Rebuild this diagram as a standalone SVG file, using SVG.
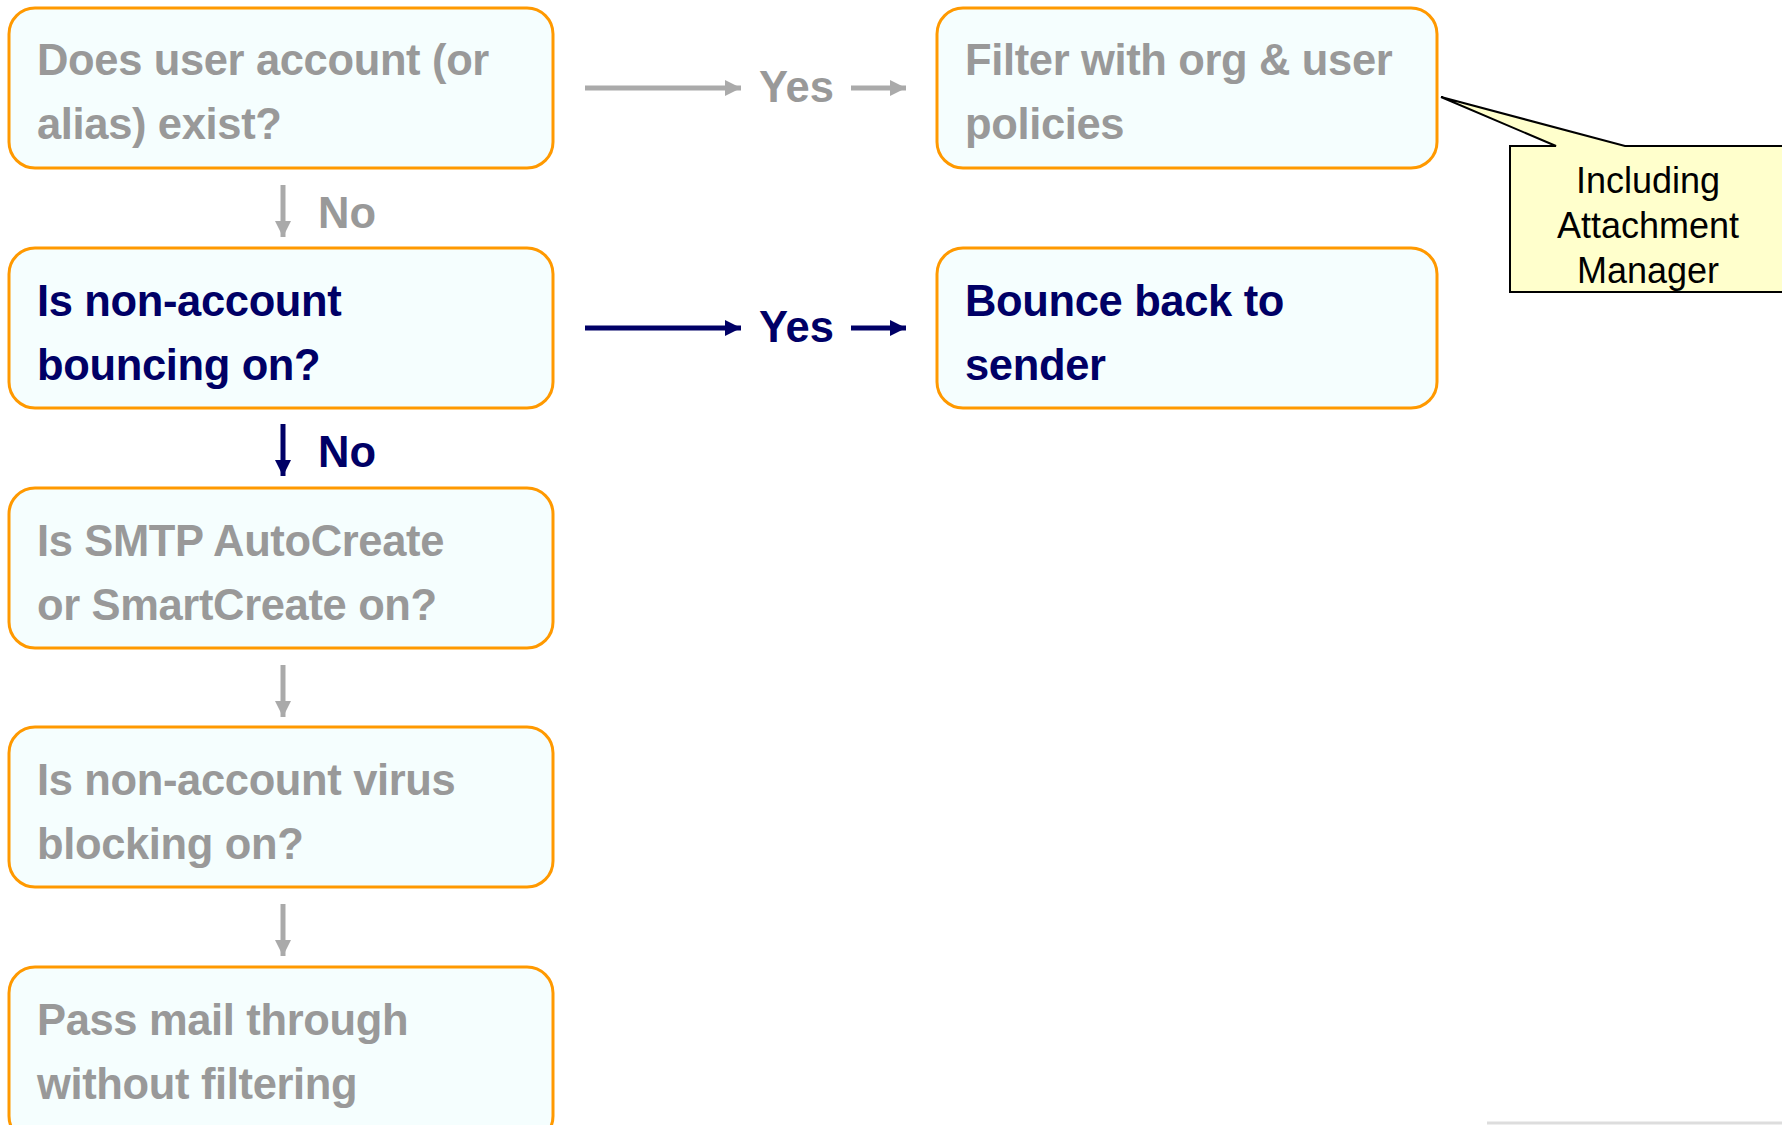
<svg xmlns="http://www.w3.org/2000/svg" width="1782" height="1125" viewBox="0 0 1782 1125">
  <style>
    .box { fill: #F5FEFE; stroke: #FF9900; stroke-width: 3; }
    .t { font-family: "Liberation Sans", Arial, sans-serif; font-weight: bold; font-size: 43.5px; }
    .bt { letter-spacing: -0.35px; }
    .gray { fill: #999999; }
    .navy { fill: #000066; }
    .lg { stroke: #AAAAAA; stroke-width: 5; fill: none; }
    .ln { stroke: #000066; stroke-width: 5; fill: none; }
    .note { fill: #FFFFCC; stroke: #000000; stroke-width: 2; }
    .nt { font-family: "Liberation Sans", Arial, sans-serif; font-size: 36px; fill: #000000; text-anchor: middle; }
  </style>
  <defs>
    <marker id="headGray" markerUnits="userSpaceOnUse" markerWidth="18" markerHeight="18" refX="16" refY="8" orient="auto">
      <path d="M0,0 L16,8 L0,16 z" fill="#AAAAAA"/>
    </marker>
    <marker id="headNavy" markerUnits="userSpaceOnUse" markerWidth="18" markerHeight="18" refX="16" refY="8" orient="auto">
      <path d="M0,0 L16,8 L0,16 z" fill="#000066"/>
    </marker>
  </defs>

  <rect width="1782" height="1125" fill="#FFFFFF"/>

  <!-- Decision and action boxes -->
  <g id="account-exists">
    <rect class="box" x="9" y="8" width="544" height="160" rx="26"/>
    <text class="t bt gray" x="37" y="75">Does user account (or</text>
    <text class="t bt gray" x="37" y="139">alias) exist?</text>
  </g>
  <g id="bouncing">
    <rect class="box" x="9" y="248" width="544" height="160" rx="26"/>
    <text class="t bt navy" x="37" y="316">Is non-account</text>
    <text class="t bt navy" x="37" y="380">bouncing on?</text>
  </g>
  <g id="autocreate">
    <rect class="box" x="9" y="488" width="544" height="160" rx="26"/>
    <text class="t bt gray" x="37" y="556">Is SMTP AutoCreate</text>
    <text class="t bt gray" x="37" y="620">or SmartCreate on?</text>
  </g>
  <g id="virus-blocking">
    <rect class="box" x="9" y="727" width="544" height="160" rx="26"/>
    <text class="t bt gray" x="37" y="795">Is non-account virus</text>
    <text class="t bt gray" x="37" y="859">blocking on?</text>
  </g>
  <g id="pass-through">
    <rect class="box" x="9" y="967" width="544" height="175" rx="26"/>
    <text class="t bt gray" x="37" y="1035">Pass mail through</text>
    <text class="t bt gray" x="37" y="1099">without filtering</text>
  </g>
  <g id="filter-policies">
    <rect class="box" x="937" y="8" width="500" height="160" rx="26"/>
    <text class="t bt gray" x="965" y="75">Filter with org &amp; user</text>
    <text class="t bt gray" x="965" y="139">policies</text>
  </g>
  <g id="bounce-back">
    <rect class="box" x="937" y="248" width="500" height="160" rx="26"/>
    <text class="t bt navy" x="965" y="316">Bounce back to</text>
    <text class="t bt navy" x="965" y="380">sender</text>
  </g>

  <!-- Callout note -->
  <g id="attachment-note">
    <path class="note" d="M1510,146 L1556,146 L1441,97 L1625,146 L1790,146 L1790,292 L1510,292 Z"/>
    <text class="nt" x="1648" y="193">Including</text>
    <text class="nt" x="1648" y="238">Attachment</text>
    <text class="nt" x="1648" y="283">Manager</text>
  </g>

  <!-- Connectors -->
  <g id="connectors">
    <line class="lg" x1="585" y1="88" x2="741" y2="88" marker-end="url(#headGray)"/>
    <line class="lg" x1="851" y1="88" x2="906" y2="88" marker-end="url(#headGray)"/>
    <text class="t gray" x="759" y="102">Yes</text>

    <line class="ln" x1="585" y1="328" x2="741" y2="328" marker-end="url(#headNavy)"/>
    <line class="ln" x1="851" y1="328" x2="906" y2="328" marker-end="url(#headNavy)"/>
    <text class="t navy" x="759" y="342">Yes</text>

    <line class="lg" x1="283" y1="185" x2="283" y2="237" marker-end="url(#headGray)"/>
    <text class="t gray" x="318" y="228">No</text>

    <line class="ln" x1="283" y1="424" x2="283" y2="476" marker-end="url(#headNavy)"/>
    <text class="t navy" x="318" y="467">No</text>

    <line class="lg" x1="283" y1="665" x2="283" y2="717" marker-end="url(#headGray)"/>
    <line class="lg" x1="283" y1="904" x2="283" y2="956" marker-end="url(#headGray)"/>
  </g>

  <!-- faint edge at lower right -->
  <line x1="1487" y1="1123" x2="1782" y2="1123" stroke="#DDDDDD" stroke-width="3"/>
</svg>
